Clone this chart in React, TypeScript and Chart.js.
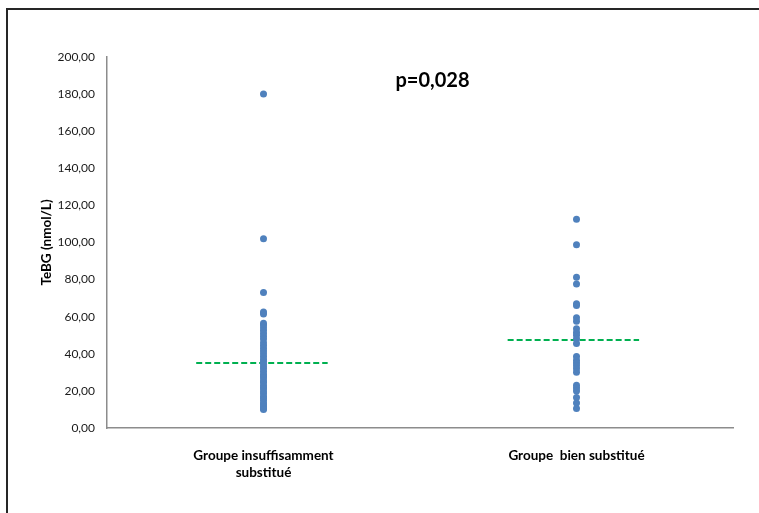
import React, { useEffect, useRef } from "react";
import { Chart, registerables } from "chart.js";

Chart.register(...registerables);

const categories: string[][] = [["Groupe insuffisamment", "substitué"], ["Groupe  bien substitué"]];

const group1Values: number[] = [
  180, 102, 73, 62.5, 61.5,
  56.5, 55.5, 54, 52.5, 51, 49.5, 48, 46, 44.5, 43, 41.5, 40, 38.5, 37, 36, 34.5,
  33, 32, 30.5, 29, 28, 27, 25.5, 24.5, 23, 22, 21, 19.5, 18.5, 17, 16, 15, 13.5,
  12.5, 11.5, 10.5, 10,
];

const group2Values: number[] = [
  112.5, 98.8, 81.2, 77.6, 67, 66, 59.5, 57.5, 53.5, 51.5, 50, 48, 45.5, 38.5, 36.5,
  35, 33.5, 32, 30, 23, 21.5, 20, 16.5, 13.5, 10.5,
];

const meanValues: number[] = [35, 47.4];
const meanCenters: number[] = [-0.005, 0.99];
const pValueText = "p=0,028";
const yTicks: number[] = [0, 20, 40, 60, 80, 100, 120, 140, 160, 180, 200];

const fmt = (v: number) => v.toFixed(2).replace(".", ",");

export default function App() {
  const ref = useRef<HTMLCanvasElement | null>(null);

  useEffect(() => {
    if (!ref.current) return;
    const half = 0.21;
    const pointColor = "#4F81BD";
    const pPlugin = {
      id: "pText",
      afterDraw(chart: any) {
        const { ctx, scales } = chart;
        const x = scales.x.getPixelForValue(0.54);
        const y = scales.y.getPixelForValue(187.5);
        ctx.save();
        ctx.font = "bold 20px Lato";
        ctx.fillStyle = "#000";
        ctx.textAlign = "center";
        ctx.textBaseline = "middle";
        ctx.fillText(pValueText, x, y);
        ctx.restore();
      },
    };
    const chart = new Chart(ref.current, {
      type: "scatter",
      data: {
        datasets: [
          {
            type: "scatter",
            data: group1Values.map((v) => ({ x: 0, y: v })),
            backgroundColor: pointColor,
            borderColor: pointColor,
            pointRadius: 3.5,
            borderWidth: 0,
          },
          {
            type: "scatter",
            data: group2Values.map((v) => ({ x: 1, y: v })),
            backgroundColor: pointColor,
            borderColor: pointColor,
            pointRadius: 3.5,
            borderWidth: 0,
          },
          ...meanValues.map((m, i) => ({
            type: "line" as const,
            data: [
              { x: meanCenters[i] - half, y: m },
              { x: meanCenters[i] + half, y: m },
            ],
            borderColor: "#00B050",
            borderWidth: 2,
            borderDash: [6, 3],
            pointRadius: 0,
            fill: false,
          })),
        ],
      },
      options: {
        responsive: false,
        animation: false,
        devicePixelRatio: 1,
        layout: { padding: { top: 57, right: 26, left: 0, bottom: 0 } },
        plugins: { legend: { display: false }, tooltip: { enabled: false } },
        scales: {
          x: {
            type: "linear",
            min: -0.5,
            max: 1.5,
            grid: { display: false, drawTicks: false },
            border: { display: true, color: "#8c8c8c", width: 1.5 },
            afterBuildTicks: (scale: any) => {
              scale.ticks = categories.map((_, i) => ({ value: i }));
            },
            afterFit: (scale: any) => {
              scale.height = 85;
            },
            ticks: {
              autoSkip: false,
              maxRotation: 0,
              padding: 19,
              color: "#000",
              font: { family: "Lato", size: 13.5, weight: "bold", lineHeight: 1.25 },
              callback: (v: any) => categories[Math.round(Number(v))] ?? "",
            },
          },
          y: {
            type: "linear",
            min: 0,
            max: 200,
            grid: { display: false, drawTicks: false },
            border: { display: true, color: "#8c8c8c", width: 1.5 },
            afterBuildTicks: (scale: any) => {
              scale.ticks = yTicks.map((v) => ({ value: v }));
            },
            afterFit: (scale: any) => {
              scale.width = 107;
            },
            title: {
              display: true,
              text: "TeBG (nmol/L)",
              color: "#000",
              font: { family: "Lato", size: 13.5, weight: "bold" },
              padding: { top: 39, bottom: 0 },
            },
            ticks: {
              padding: 12,
              color: "#1a1a1a",
              font: { family: "Lato", size: 12 },
              callback: (v: any) => fmt(Number(v)),
            },
          },
        },
      },
      plugins: [pPlugin],
    } as any);
    return () => chart.destroy();
  }, []);

  return (
    <div>
      <div
        style={{
          position: "fixed",
          left: 6,
          top: 8,
          width: 900,
          height: 700,
          borderTop: "2px solid #262626",
          borderLeft: "2px solid #262626",
          boxSizing: "border-box",
        }}
      />
      <canvas
        ref={ref}
        width={759}
        height={513}
        style={{ position: "fixed", left: 0, top: 0, width: 759, height: 513 }}
      />
    </div>
  );
}
